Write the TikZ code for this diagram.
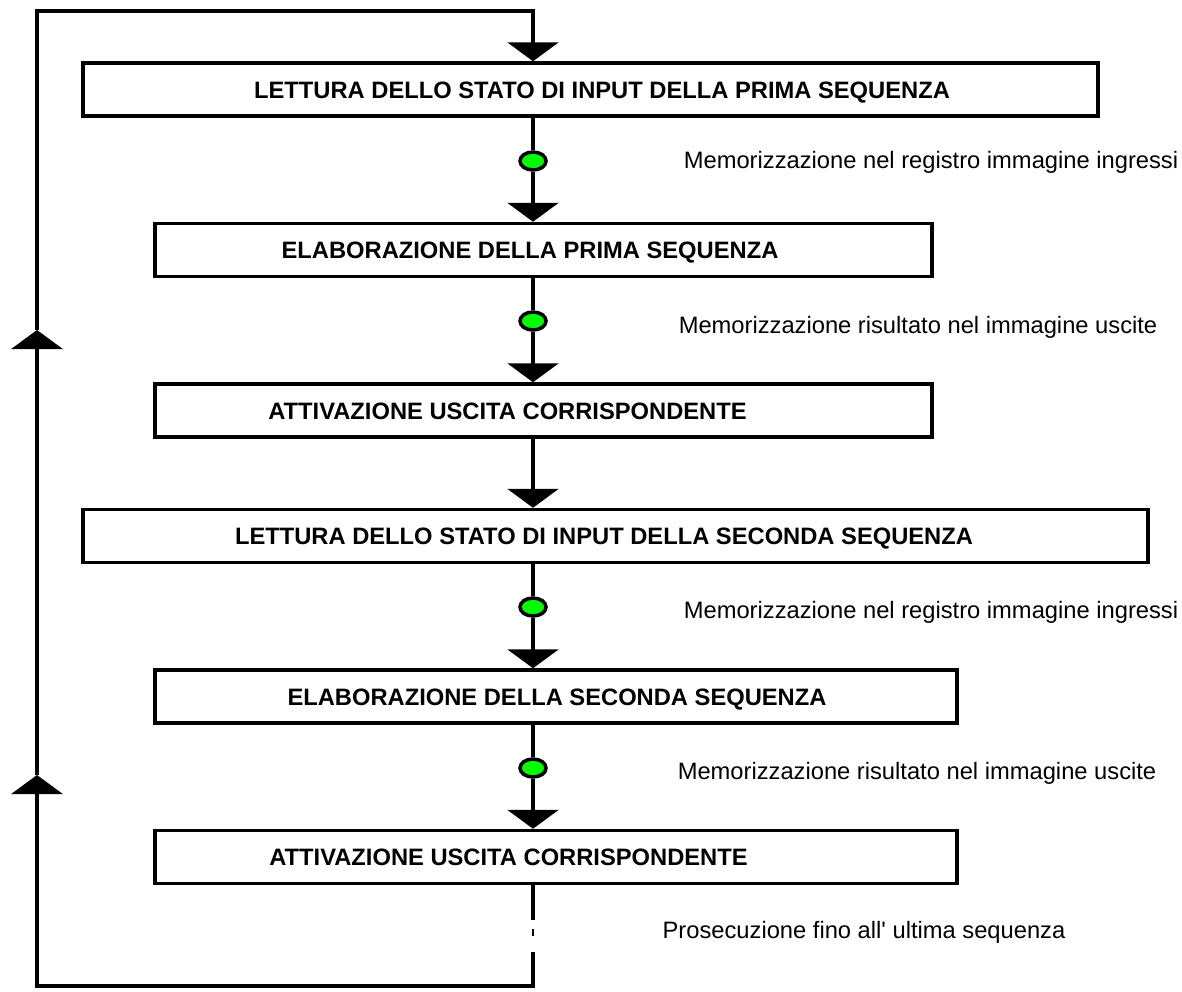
\documentclass[tikz,border=0pt]{standalone}
\usepackage{fontspec}
\setmainfont{Liberation Sans}[Ligatures=TeXOff]
\usetikzlibrary{arrows.meta,shapes.geometric}
\definecolor{ledgreen}{RGB}{0,255,0}

\begin{document}
\begin{tikzpicture}[x=0.02cm,y=-0.02cm,line width=2pt,
  stepbox/.style={draw,minimum height=1.06cm,inner sep=0pt},
  steptext/.style={font=\fontsize{13.5}{16}\selectfont\bfseries,inner sep=0pt,text height=9.7pt,text depth=0pt},
  memo/.style={font=\fontsize{13.5}{16}\selectfont,inner sep=0pt,text height=9.7pt,text depth=0pt},
  led/.style={draw,ellipse,fill=ledgreen,minimum width=0.52cm,minimum height=0.36cm,inner sep=0pt},
  flow/.style={-{Triangle[length=0.38cm,width=1.02cm]}}]
\useasboundingbox (0,0) rectangle (1182,991);
\node[stepbox,minimum width=20.30cm] (b1) at (590.5,89.5) {};
\node[steptext] (t1) at (602,89.5) {LETTURA DELLO STATO DI INPUT DELLA PRIMA SEQUENZA};
\node[stepbox,minimum width=15.54cm] (b2) at (543.5,250) {};
\node[steptext] (t2) at (530,250) {ELABORAZIONE DELLA PRIMA SEQUENZA};
\node[stepbox,minimum width=15.54cm] (b3) at (543.5,410.5) {};
\node[steptext] (t3) at (507.5,410.5) {ATTIVAZIONE USCITA CORRISPONDENTE};
\node[stepbox,minimum width=21.30cm] (b4) at (615.5,536) {};
\node[steptext] (t4) at (604,536) {LETTURA DELLO STATO DI INPUT DELLA SECONDA SEQUENZA};
\node[stepbox,minimum width=16.04cm] (b5) at (556,696.5) {};
\node[steptext] (t5) at (557,696.5) {ELABORAZIONE DELLA SECONDA SEQUENZA};
\node[stepbox,minimum width=16.04cm] (b6) at (556,857) {};
\node[steptext] (t6) at (508.5,857) {ATTIVAZIONE USCITA CORRISPONDENTE};
\node[led] (e1) at (533,161) {};
\node[led] (e2) at (533,321) {};
\node[led] (e3) at (533,607) {};
\node[led] (e4) at (533,768) {};
\node[memo] (m1) at (931,160) {Memorizzazione nel registro immagine ingressi};
\node[memo] (m2) at (918,325) {Memorizzazione risultato nel immagine uscite};
\node[memo] (m3) at (931,610) {Memorizzazione nel registro immagine ingressi};
\node[memo] (m4) at (917,771) {Memorizzazione risultato nel immagine uscite};
\node[memo] (m5) at (864,930) {Prosecuzione fino all' ultima sequenza};
\coordinate (ctl) at (37,11);
\coordinate (ctr) at (533,11);
\coordinate (up1) at (37,330);
\coordinate (up2) at (37,775);
\coordinate (cbl) at (37,986);
\coordinate (cbr) at (533,986);
\coordinate (brk1) at (533,920);
\coordinate (dot1) at (533,929);
\coordinate (dot2) at (533,936);
\coordinate (brk2) at (533,952);
\draw (e1 |- b1.south) -- (e1);
\draw[flow] (e1) -- (e1 |- b2.north);
\draw (e2 |- b2.south) -- (e2);
\draw[flow] (e2) -- (e2 |- b3.north);
\draw[flow] (e2 |- b3.south) -- (e2 |- b4.north);
\draw (e3 |- b4.south) -- (e3);
\draw[flow] (e3) -- (e3 |- b5.north);
\draw (e4 |- b5.south) -- (e4);
\draw[flow] (e4) -- (e4 |- b6.north);
\draw (e4 |- b6.south) -- (brk1);
\draw[line width=0.6pt] (dot1) -- (dot2);
\draw[flow] (brk2) -- (cbr) -- (cbl) -- (up2);
\draw[flow] (up2) -- (up1);
\draw[flow] (up1) -- (ctl) -- (ctr) -- (ctr |- b1.north);
\end{tikzpicture}
\end{document}
